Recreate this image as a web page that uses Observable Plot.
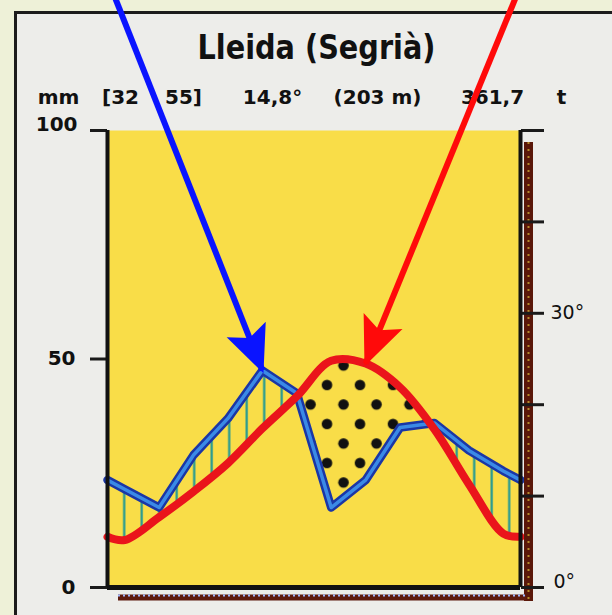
<!DOCTYPE html>
<html>
<head>
<meta charset="utf-8">
<script src="https://cdn.jsdelivr.net/npm/d3@7"></script>
<script src="https://cdn.jsdelivr.net/npm/@observablehq/plot@0.6"></script>
<style>
  html, body { margin: 0; padding: 0; width: 612px; height: 615px; overflow: hidden; background: #eef1d8; }
  #box { position: absolute; left: 14px; top: 11px; width: 700px; height: 700px;
         border-left: 3px solid #1c1c1c; border-top: 3px solid #1c1c1c; background: #ededea; }
  #chart { position: absolute; left: 0; top: 0; }
</style>
</head>
<body>
<div id="box"></div>
<div id="chart"></div>
<script>
// ---- data ----
const months = ["G", "F", "M", "A", "M", "J", "J", "A", "S", "O", "N", "D"];
const precipitation = [21.5, 17.5, 29, 37, 47.5, 42.5, 17.5, 23.5, 35, 36, 30, 25.5]; // mm
const temperature   = [5.2, 7.7, 10.5, 13.6, 17.4, 20.9, 24.8, 24.5, 21.9, 17.3, 11.3, 5.9]; // °C
const titleText = "Lleida (Segrià)";
const headerTexts = ["mm", "[32", "55]", "14,8°", "(203 m)", "361,7", "t"];
const leftTicks = [0, 50, 100];            // mm
const tempTicks = [0, 10, 20, 30, 40, 50]; // °C (1 °C = 2 mm)
const tempTickLabels = {0: "0°", 30: "30°"};
// annotation arrows: start (x in months, y in mm) and target month
const arrowStartX = [0.17, 11.91];
const arrowStartY = [130, 130];
const arrowTargetMonth = [4, 7];

// ---- derived table (Walter–Lieth: months at mid-interval, wrap at edges) ----
const edgeP = (precipitation[0] + precipitation[11]) / 2;
const edgeT = (temperature[0] + temperature[11]) / 2;
const series = [
  {x: 0, p: edgeP, t2: 2 * edgeT},
  ...months.map((m, i) => ({x: i + 0.5, p: precipitation[i], t2: 2 * temperature[i]})),
  {x: 12, p: edgeP, t2: 2 * edgeT}
];
const blueArrow = [{x1: arrowStartX[0], y1: arrowStartY[0], x2: arrowTargetMonth[0] + 0.5, y2: precipitation[arrowTargetMonth[0]]}];
const redArrow = [{x1: arrowStartX[1], y1: arrowStartY[1], x2: arrowTargetMonth[1] + 0.5, y2: 2 * temperature[arrowTargetMonth[1]]}];

const headerX = [58, 120, 183, 272, 377, 492, 561];
const FONT = "DejaVu Sans";
const RED_CURVE = "catmull-rom";
const txt = (s, o) => Plot.text([s], {text: d => d, frameAnchor: "top-left", fontFamily: FONT, fill: "#111", ...o});

const chart = Plot.plot({
  width: 612, height: 615,
  marginLeft: 107, marginRight: 92, marginTop: 130, marginBottom: 28,
  style: {background: "transparent", fontFamily: FONT},
  x: {domain: [0, 12], axis: null},
  y: {domain: [0, 100], axis: null},
  marks: [
    Plot.frame({fill: "#f9dd48"}),
    // humid: above the temperature curve, clipped below the precipitation curve
    Plot.areaY(series, {x: "x", y1: "t2", y2: 100, curve: RED_CURVE, fill: "url(#hatch)", ariaDescription: "humid"}),
    // arid: above the precipitation curve, clipped below the temperature curve
    Plot.areaY(series, {x: "x", y1: "p", y2: 100, fill: "url(#dots)", ariaDescription: "arid"}),
    Plot.areaY(series, {x: "x", y1: 0, y2: "p", fill: "none", ariaDescription: "clip-blue"}),
    Plot.areaY(series, {x: "x", y1: 0, y2: "t2", curve: RED_CURVE, fill: "none", ariaDescription: "clip-red"}),
    Plot.line(series, {x: "x", y: "p", stroke: "#1a36a6", strokeWidth: 8.5, strokeLinejoin: "round"}),
    Plot.line(series, {x: "x", y: "p", stroke: "#3b8ae6", strokeWidth: 3.5, strokeLinejoin: "round"}),
    Plot.line(series, {x: "x", y: "t2", curve: RED_CURVE, stroke: "#ea141b", strokeWidth: 8, strokeLinejoin: "round"}),
    // right dark band and bottom strip
    Plot.ruleX([12], {dx: 8, y1: 97.4, y2: 0, insetBottom: -14, stroke: "#5a1709", strokeWidth: 9}),
    Plot.ruleX([12], {dx: 8, y1: 97.4, y2: 0, insetBottom: -14, stroke: "#b48a2a", strokeWidth: 2, strokeDasharray: "2,5"}),
    Plot.ruleY([0], {dy: 10, insetLeft: 11, insetRight: -6, stroke: "#5e1a0e", strokeWidth: 6}),
    Plot.ruleY([0], {dy: 8, insetLeft: 11, insetRight: -6, stroke: "#9fb8ff", strokeWidth: 2, strokeDasharray: "2,3"}),
    // axes
    Plot.axisY(leftTicks, {anchor: "left", tickSize: 17, strokeWidth: 3, stroke: "#1a1a1a", tickFormat: () => "", label: null}),
    Plot.axisY(tempTicks.map(t => 2 * t), {anchor: "right", tickSize: 23, strokeWidth: 3, stroke: "#1a1a1a", tickFormat: () => "", label: null}),
    Plot.ruleX([0], {stroke: "#111", strokeWidth: 4}),
    Plot.ruleX([12], {stroke: "#111", strokeWidth: 4}),
    Plot.ruleY([0], {stroke: "#111", strokeWidth: 5}),
    // tick labels
    Plot.text(leftTicks.filter(v => v < 100), {y: d => d, text: d => String(d), frameAnchor: "left", dx: -32, textAnchor: "end", lineAnchor: "middle", fontSize: 20, fontWeight: "bold", fontFamily: FONT, fill: "#111"}),
    Plot.text(leftTicks.filter(v => v === 100), {y: d => d, text: d => String(d), frameAnchor: "left", dx: -30, textAnchor: "end", lineAnchor: "bottom", fontSize: 20, fontWeight: "bold", fontFamily: FONT, fill: "#111"}),
    Plot.text(tempTicks.filter(t => t === 30), {y: d => 2 * d, text: d => tempTickLabels[d], frameAnchor: "right", dx: 30, textAnchor: "start", lineAnchor: "middle", fontSize: 19, fontFamily: FONT, fill: "#111"}),
    Plot.text(tempTicks.filter(t => t === 0), {y: d => 2 * d, text: d => tempTickLabels[d], frameAnchor: "right", dx: 33, textAnchor: "start", lineAnchor: "bottom", fontSize: 19, fontFamily: FONT, fill: "#111"}),
    // title and header
    txt(titleText, {dx: 316 - 107, dy: 58 - 130, textAnchor: "middle", lineAnchor: "bottom", fontSize: 33, fontWeight: "bold", ariaDescription: "title"}),
    ...headerTexts.map((s, i) => txt(s, {dx: headerX[i] - 107, dy: 103 - 130, textAnchor: "middle", lineAnchor: "bottom", fontSize: 20, fontWeight: "bold"})),
    // arrows
    Plot.link(blueArrow, {x1: "x1", y1: "y1", x2: "x2", y2: "y2", stroke: "#0a14ff", strokeWidth: 6, ariaDescription: "arrow-blue"}),
    Plot.link(redArrow, {x1: "x1", y1: "y1", x2: "x2", y2: "y2", stroke: "#ff0a0a", strokeWidth: 6, ariaDescription: "arrow-red"})
  ]
});

// ---- patterns, clips and arrowheads ----
const xs = chart.scale("x");
const hx = xs.apply(0.5) - 1.5;
const areaGroups = Array.from(chart.querySelectorAll('g[aria-label="area"]'));
const linkGroups = Array.from(chart.querySelectorAll('g[aria-label="link"]'));
const byDesc = (name, fallbackList, idx) =>
  chart.querySelector(`g[aria-description="${name}"]`) || (fallbackList ? fallbackList[idx] : null);
const gHumid = byDesc("humid", areaGroups, 0);
const gArid = byDesc("arid", areaGroups, 1);
const gClipB = byDesc("clip-blue", areaGroups, 2);
const gClipR = byDesc("clip-red", areaGroups, 3);
const gArrowB = byDesc("arrow-blue", linkGroups, 0);
const gArrowR = byDesc("arrow-red", linkGroups, 1);

const defs = document.createElementNS("http://www.w3.org/2000/svg", "defs");
let html = `
  <pattern id="hatch" patternUnits="userSpaceOnUse" x="${hx}" y="0" width="17.5" height="20">
    <rect x="0.4" y="0" width="2.2" height="20" fill="#1f9894"/>
  </pattern>
  <pattern id="dots" patternUnits="userSpaceOnUse" x="${327 - 8.25}" y="${385 - 9.75}" width="33" height="39">
    <circle cx="8.25" cy="9.75" r="5.3" fill="#111"/>
    <circle cx="24.75" cy="29.25" r="5.3" fill="#111"/>
  </pattern>
  <marker id="head-blue" markerUnits="userSpaceOnUse" viewBox="-48 -24 52 48" markerWidth="52" markerHeight="48" refX="0" refY="0" orient="auto">
    <path d="M3,0 L-44,-21 L-35,0 L-44,21 Z" fill="#0a14ff"/>
  </marker>
  <marker id="head-red" markerUnits="userSpaceOnUse" viewBox="-48 -24 52 48" markerWidth="52" markerHeight="48" refX="0" refY="0" orient="auto">
    <path d="M3,0 L-46,-21 L-36,0 L-46,21 Z" fill="#ff0a0a"/>
  </marker>`;
for (const [g, id] of [[gClipB, "cb"], [gClipR, "cr"]]) {
  if (!g) continue;
  const d = g.querySelector("path").getAttribute("d");
  const tr = g.getAttribute("transform");
  html += `<clipPath id="${id}"><path d="${d}"${tr ? ` transform="${tr}"` : ""}/></clipPath>`;
  g.remove();
}
defs.innerHTML = html;
chart.insertBefore(defs, chart.firstChild);
for (const [g, id] of [[gHumid, "cb"], [gArid, "cr"]]) {
  if (!g) continue;
  const tr = g.getAttribute("transform");
  if (tr) {
    g.removeAttribute("transform");
    g.querySelectorAll("path").forEach(p => p.setAttribute("transform", tr));
  }
  g.setAttribute("clip-path", `url(#${id})`);
}
if (gArrowB) gArrowB.querySelectorAll("path").forEach(p => p.setAttribute("marker-end", "url(#head-blue)"));
if (gArrowR) gArrowR.querySelectorAll("path").forEach(p => p.setAttribute("marker-end", "url(#head-red)"));
const tg = chart.querySelector('g[aria-description="title"] text');
if (tg) { tg.setAttribute("textLength", 238); tg.setAttribute("lengthAdjust", "spacingAndGlyphs"); }

document.getElementById("chart").appendChild(chart);
</script>
</body>
</html>
